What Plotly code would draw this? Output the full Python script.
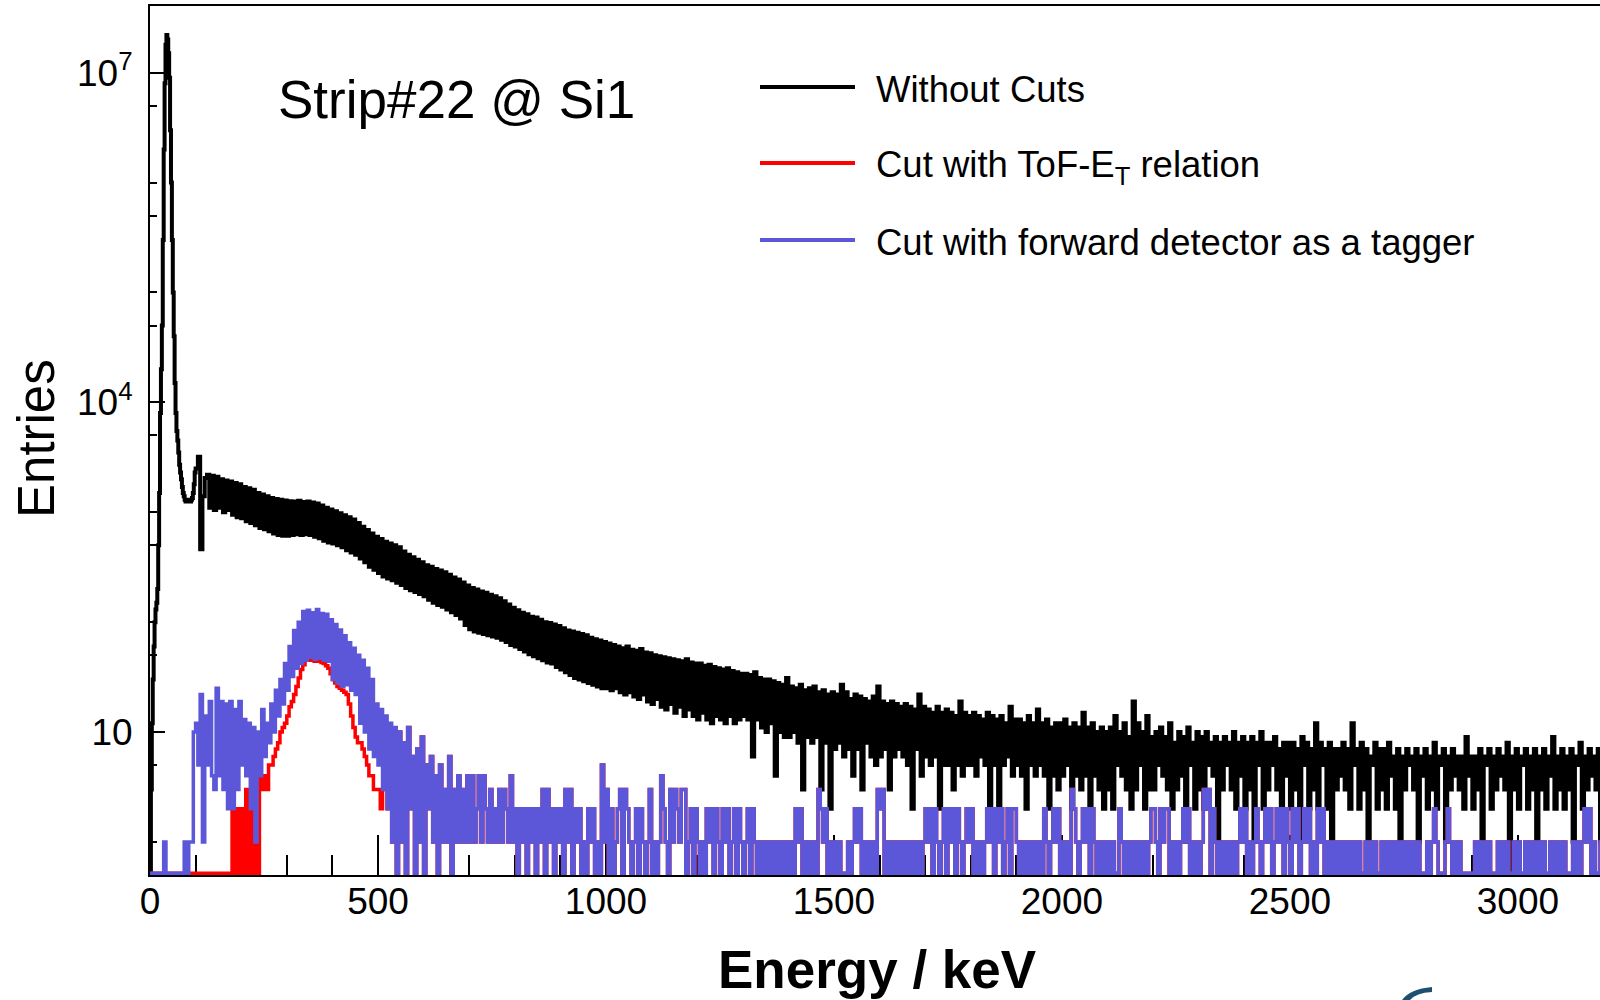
import plotly.graph_objects as go

# ---------------- data ----------------
# Black "Without Cuts": 2 keV bins from 0 to 100 keV
black_peak_counts = [
    0, 3, 12, 30, 60, 100, 130, 150, 200, 500,
    1500, 8000, 20000, 50000, 300000, 2000000, 8000000, 18000000, 22000000, 20000000,
    15000000, 9000000, 3000000, 1000000, 300000, 100000, 40000, 15000, 8000, 5500,
    4500, 3500, 2700, 2300, 2000, 1700, 1500, 1400, 1300, 1250,
    1250, 1300, 1250, 1300, 1250, 1300, 1350, 1500, 1800, 2300,
]
# Black "Without Cuts": 5 keV bins from 100 to 3200 keV
black_tail_counts = [
    2500, 3200, 460, 1400, 2050, 2200, 1100, 2150, 1050, 2100,
    1100, 2000, 1000, 1950, 1050, 1900, 950, 1850, 900, 1800,
    880, 1700, 830, 1650, 800, 1600, 760, 1500, 720, 1450,
    700, 1400, 670, 1350, 640, 1320, 620, 1300, 610, 1280,
    610, 1260, 620, 1250, 630, 1270, 620, 1240, 630, 1250,
    620, 1230, 600, 1200, 580, 1150, 550, 1100, 530, 1060,
    520, 1020, 500, 980, 480, 940, 450, 900, 430, 860,
    410, 800, 380, 740, 350, 690, 320, 640, 300, 600,
    280, 570, 260, 540, 250, 520, 240, 500, 228, 480,
    218, 440, 205, 410, 195, 390, 188, 370, 180, 350,
    172, 330, 160, 320, 150, 305, 143, 295, 138, 285,
    130, 270, 123, 255, 116, 245, 108, 230, 94, 215,
    86, 205, 82, 198, 80, 190, 78, 185, 76, 178,
    74, 172, 72, 165, 69, 155, 66, 145, 62, 135,
    60, 128, 57, 122, 54, 118, 51, 112, 49, 110,
    47, 105, 45, 100, 43, 98, 42, 95, 39, 92,
    37, 88, 35, 84, 33, 82, 31, 80, 30, 78,
    29, 76, 28, 72, 27, 70, 26, 68, 25, 66,
    25, 64, 24, 62, 25, 60, 23, 58, 22, 60,
    23, 56, 21, 55, 20, 57, 22, 53, 19, 52,
    18, 50, 20, 49, 17, 48, 16, 47, 18, 46,
    15, 45, 17, 44, 14, 46, 16, 43, 14, 42,
    13, 42, 15, 40, 13, 41, 12, 39, 14, 38,
    13, 37, 12, 38, 14, 36, 12, 35, 13, 34,
    14, 34, 13, 33, 6, 35, 13, 31, 11, 30,
    10, 30, 12, 29, 4, 28, 10, 27, 9, 31,
    9, 26, 10, 25, 8, 27, 3, 24, 9, 25,
    8, 26, 9, 23, 3, 24, 8, 22, 2, 23,
    7, 22, 8, 27, 6, 23, 7, 20, 4, 22,
    7, 21, 3, 20, 8, 19, 6, 21, 5, 26,
    6, 19, 7, 18, 3, 19, 6, 18, 7, 17,
    6, 18, 5, 17, 2, 16, 7, 22, 4, 17,
    6, 16, 5, 15, 6, 17, 2, 15, 5, 16,
    5, 15, 3, 14, 5, 19, 4, 15, 5, 14,
    5, 15, 4, 14, 6, 13, 5, 15, 2, 14,
    5, 13, 2, 14, 5, 12, 6, 17, 4, 13,
    5, 13, 4, 12, 2, 14, 5, 12, 4, 16,
    5, 12, 4, 13, 2, 11, 4, 12, 3, 12,
    4, 13, 5, 11, 2, 12, 4, 11, 3, 15,
    4, 11, 2, 12, 4, 10, 3, 11, 2, 10,
    3, 11, 2, 14, 5, 10, 4, 12, 3, 9,
    2, 19, 3, 12, 5, 10, 2, 14, 3, 9,
    3, 10, 5, 11, 4, 9, 3, 12, 2, 8,
    3, 10, 4, 9, 1, 11, 5, 8, 2, 10,
    3, 9, 2, 10, 5, 8, 4, 9, 1, 8,
    3, 9, 5, 8, 3, 10, 2, 8, 4, 9,
    2, 8, 3, 9, 1, 8, 5, 10, 2, 8,
    3, 8, 5, 9, 3, 7, 2, 8, 4, 8,
    2, 8, 3, 7, 1, 9, 5, 8, 2, 7,
    3, 12, 2, 8, 5, 7, 2, 8, 1, 7,
    3, 7, 4, 8, 3, 7, 2, 12, 5, 7,
    2, 8, 3, 7, 1, 6, 5, 8, 2, 7,
    3, 7, 2, 8, 4, 6, 2, 7, 0, 6,
    3, 7, 5, 6, 3, 7, 1, 6, 4, 7,
    2, 6, 3, 8, 2, 6, 5, 7, 1, 6,
    3, 7, 4, 6, 3, 6, 2, 9, 4, 6,
    2, 6, 3, 7, 1, 6, 5, 7, 2, 6,
    3, 7, 4, 6, 3, 8, 0, 6, 3, 7,
    2, 6, 5, 7, 2, 6, 3, 7, 1, 6,
    3, 7, 2, 6, 4, 9, 2, 6, 3, 7,
    2, 6, 3, 7, 1, 6, 5, 8, 2, 6,
    3, 7, 4, 6, 3, 7, 1, 9, 3, 6,
]

# Blue "forward detector tagger": 5 keV bins, 0-700 keV
blue_head_counts = [
    0, 0, 0, 0, 0, 0, 1, 0, 0, 0,
    0, 0, 0, 0, 0, 1, 0, 1, 1, 10,
    12, 5, 22, 1, 14, 5, 19, 4, 3, 25,
    4, 19, 3, 18, 2, 19, 2, 16, 3, 19,
    5, 13, 4, 12, 2, 11, 1, 10, 4, 16,
    6, 12, 8, 18, 10, 24, 14, 30, 18, 42,
    24, 60, 32, 84, 38, 100, 42, 125, 45, 128,
    48, 122, 46, 130, 47, 120, 45, 118, 44, 105,
    30, 95, 28, 85, 26, 75, 27, 65, 24, 58,
    22, 50, 12, 45, 10, 38, 7, 30, 6, 18,
    5, 16, 3, 14, 2, 12, 1, 11, 0, 10,
    1, 8, 0, 11, 2, 6, 0, 7, 1, 9,
    0, 5, 2, 6, 1, 4, 0, 5, 1, 3,
    1, 6, 0, 3, 1, 4, 1, 3, 1, 4,
]
# Blue: 5 keV bins, 700-3200 keV, one digit per bin
blue_tail_digits = (
    "1412414213" "1213132141" "2021202120" "2130312021" "2031302120"
    "1021201051" "3020123032" "1012021013" "0101421031" "3213301202"
    "1010212021" "0212012021" "0120210101" "0101010101" "0102120101"
    "0103212010" "1010001012" "1201010103" "2301010101" "0101010101"
    "2120210120" "2120210121" "2010101212" "0212012022" "1010101010"
    "1021012120" "1010321012" "1202101010" "1010021010" "1010101012"
    "2102122010" "1012120101" "0132302101" "0101010121" "2010121012"
    "1201212021" "0212012120" "1021201010" "1010101010" "1001010100"
    "1010101010" "1010101000" "1012100012" "1010100000" "0101010100"
    "0101010010" "1001010101" "0100101010" "1000101012" "1201001010"
)
# Red "ToF-E_T cut": 5 keV bins, 0-540 keV (above that it coincides with blue)
red_head_counts = [
    0, 0, 0, 0, 0, 0, 0, 0, 0, 0,
    0, 0, 0, 0, 0, 0, 0, 0, 0, 0,
    0, 0, 0, 0, 0, 0, 0, 0, 0, 0,
    0, 0, 0, 0, 0, 0,
    2, 0, 2, 0, 2, 0, 3, 0, 3, 0,
    3, 0, 4, 3, 4, 3, 5, 5, 6, 7,
    8, 10, 11, 12, 14, 17, 19, 22, 26, 31,
    37, 41, 45, 46, 45, 46, 44, 45, 44, 43,
    42, 40, 38, 34, 30, 28, 26, 25, 24, 23,
    22, 18, 14, 11, 9, 8, 8, 7, 6, 5,
    4, 4, 3, 3, 3, 2, 3, 3, 2, 2,
    1, 1,
]

x_tick_vals = [0, 500, 1000, 1500, 2000, 2500, 3000]
y_tick_vals = [10, 1e4, 1e7]
y_tick_text = ["10", "10<sup>4</sup>", "10<sup>7</sup>"]
y_minor_vals = [1, 5, 50, 100, 500, 1000, 5000, 5e4, 1e5, 5e5, 1e6, 5e6]
legend_names = ["Without Cuts", "Cut with ToF-E<sub>T</sub> relation",
                "Cut with forward detector as a tagger"]
colors = ["#000000", "#ff0000", "#5b57d8"]
line_widths = [4, 3.5, 3.5]

# ---------------- build histograms ----------------
FLOOR = 0.52  # empty bins are drawn on the bottom frame (log axis)

peak_edges = [2 * i for i in range(51)]
tail_edges = [100 + 5 * i for i in range(621)]
black_edges = peak_edges[:-1] + tail_edges
black_counts = black_peak_counts + black_tail_counts

edges5 = [5 * i for i in range(641)]
blue_counts = blue_head_counts + [int(c) for c in blue_tail_digits]
red_counts = red_head_counts + blue_counts[len(red_head_counts):]


def step_xy(edges, counts):
    ys = [c if c > 0 else FLOOR for c in counts]
    return edges, ys + [ys[-1]]


fig = go.Figure()
for edges, counts, col, lw in [(black_edges, black_counts, colors[0], line_widths[0]),
                               (edges5, red_counts, colors[1], line_widths[1]),
                               (edges5, blue_counts, colors[2], line_widths[2])]:
    xs, ys = step_xy(edges, counts)
    fig.add_trace(go.Scatter(x=xs, y=ys, mode="lines", line_shape="hv",
                             line=dict(color=col, width=lw), showlegend=False,
                             hoverinfo="skip"))

FONT = "Liberation Sans, Arial, Helvetica, sans-serif"
L, T, B = 150, 6, 125
W, H = 1600, 1000
PW, PH = W - L, H - T - B


def px(xp):
    return (xp - L) / PW


def py(yp):
    return (H - B - yp) / PH


fig.update_layout(
    width=W, height=H,
    margin=dict(l=L, r=0, t=T, b=B, pad=0),
    paper_bgcolor="white", plot_bgcolor="white",
    font=dict(family=FONT, color="black", size=37),
    xaxis=dict(
        range=[0, 3180], showgrid=False, zeroline=False,
        showline=True, linecolor="black", linewidth=2, mirror=True,
        ticks="inside", ticklen=40, tickwidth=2, tickcolor="black",
        tickvals=x_tick_vals, ticktext=[str(v) for v in x_tick_vals],
        tickfont=dict(size=37, family=FONT),
        minor=dict(dtick=100, ticks="inside", ticklen=20, tickwidth=2,
                   tickcolor="black", showgrid=False),
        layer="below traces", ticklabelstandoff=-7,
    ),
    yaxis=dict(
        type="log", range=[-0.30103, 7.607], showgrid=False, zeroline=False,
        showline=True, linecolor="black", linewidth=2, mirror=False,
        ticks="inside", ticklen=15, tickwidth=2, tickcolor="black",
        tickmode="array", tickvals=y_tick_vals, ticktext=y_tick_text,
        tickfont=dict(size=37, family=FONT),
        minor=dict(tickmode="array", tickvals=y_minor_vals, ticks="inside",
                   ticklen=7, tickwidth=2, tickcolor="black", showgrid=False),
        ticklabelstandoff=8,
    ),
)

# axis titles and text
fig.add_annotation(text="<b>Energy / keV</b>", xref="paper", yref="paper",
                   x=px(877), y=py(969), xanchor="center", yanchor="middle",
                   showarrow=False, font=dict(size=53, family=FONT))
fig.add_annotation(text="Entries", xref="paper", yref="paper",
                   x=px(36), y=py(439), xanchor="center", yanchor="middle",
                   textangle=-90, showarrow=False, font=dict(size=51, family=FONT))
fig.add_annotation(text="Strip#22 @ Si1", xref="paper", yref="paper",
                   x=px(276), y=py(100), xanchor="left", yanchor="middle",
                   showarrow=False, font=dict(size=53, family=FONT))

# legend
leg_line_y = [87, 163, 240]
leg_text_y = [90, 167, 243]
for name, col, ly, ty in zip(legend_names, colors, leg_line_y, leg_text_y):
    fig.add_shape(type="line", xref="paper", yref="paper",
                  x0=px(760), x1=px(855), y0=py(ly), y1=py(ly),
                  line=dict(color=col, width=4))
    fig.add_annotation(text=name, xref="paper", yref="paper",
                       x=px(874), y=py(ty), xanchor="left", yanchor="middle",
                       showarrow=False, font=dict(size=36.5, family=FONT))

# small dark-blue sliver of a logo cut off at the bottom-right edge of the page
logo_path = "M {:.5f},{:.5f} Q {:.5f},{:.5f} {:.5f},{:.5f} L {:.5f},{:.5f} Q {:.5f},{:.5f} {:.5f},{:.5f} Z".format(
    px(1402), py(1000), px(1410), py(989), px(1432), py(987),
    px(1432), py(992), px(1416), py(993), px(1410), py(1000))
fig.add_shape(type="path", xref="paper", yref="paper", path=logo_path,
              fillcolor="#1d4f73", line=dict(width=0), layer="above")

fig.write_html("out.html")
